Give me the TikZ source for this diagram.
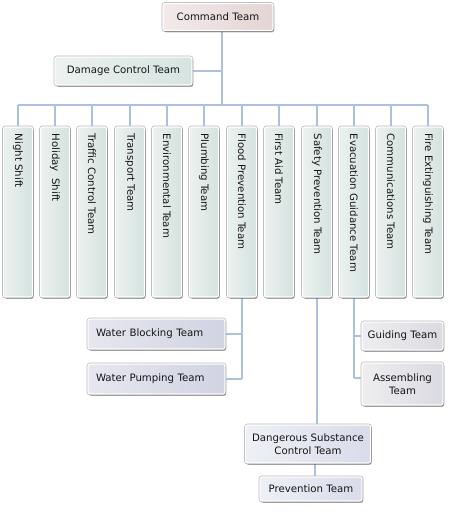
\documentclass[tikz,border=0pt]{standalone}
\usepackage{fontspec}
\setmainfont{DejaVu Sans}
\usetikzlibrary{shadows,backgrounds}
\definecolor{connc}{RGB}{172,193,222}
\definecolor{textc}{RGB}{22,22,22}
\definecolor{cmdL}{RGB}{243,234,234}
\definecolor{cmdR}{RGB}{229,212,212}
\definecolor{dmgL}{RGB}{236,242,240}
\definecolor{dmgR}{RGB}{214,228,225}
\definecolor{tallL}{RGB}{236,242,240}
\definecolor{tallR}{RGB}{212,226,223}
\definecolor{watL}{RGB}{230,231,239}
\definecolor{watR}{RGB}{208,211,226}
\definecolor{gdL}{RGB}{238,238,241}
\definecolor{gdR}{RGB}{218,218,225}
\definecolor{dgL}{RGB}{238,240,246}
\definecolor{dgR}{RGB}{217,220,233}
\begin{document}
\begin{tikzpicture}[x=1pt,y=-1pt,
  font=\fontsize{10.2}{12.5}\selectfont,
  box/.style={draw=white, line width=1.2pt, rounded corners=2pt, inner sep=2pt, text=textc,
    preaction={draw=black!28, line width=2.6pt},
    drop shadow={shadow xshift=1.2pt, shadow yshift=-1.8pt, opacity=0.3, fill=black}},
  tallbox/.style={box, minimum width=29pt, minimum height=170pt, left color=tallL, right color=tallR},
  talltext/.style={rotate=-90, anchor=west, inner sep=0pt, text=textc},
  cmdbox/.style={box, minimum width=110pt, minimum height=27pt, left color=cmdL, right color=cmdR},
  dmgbox/.style={box, minimum width=137pt, minimum height=28pt, left color=dmgL, right color=dmgR},
  watbox/.style={box, minimum width=137pt, minimum height=30pt, left color=watL, right color=watR, align=left, text width=121pt},
  gdbox/.style={box, minimum width=81pt, left color=gdL, right color=gdR, align=center},
  dgbox/.style={box, left color=dgL, right color=dgR, align=center},
  conn/.style={draw=connc, line width=2.6pt}]
\useasboundingbox (0,0) rectangle (452,515);

\node[cmdbox] (cmd) at (218,17) {Command Team};
\node[dmgbox] (dmg) at (123.5,71) {Damage Control Team};
\coordinate (j) at (222,105);

\foreach \i/\x/\t in {1/18/Night Shift, 2/55/Holiday\ \ Shift, 3/92/Traffic Control Team,
  4/130/Transport Team, 5/167/Environmental Team, 6/204/Plumbing Team,
  7/242/Flood Prevention Team, 8/279/First Aid Team, 9/317/Safety Prevention Team,
  10/354/Evacuation Guidance Team, 11/391/Communications Team, 12/428/Fire Extinguishing Team}{
  \node[tallbox] (b\i) at (\x,212) {};
  \path (b\i.north) ++(0,7) node[talltext] (t\i) {\t};
}

\node[watbox] (wb) at (156.5,334) {Water Blocking Team};
\node[watbox] (wp) at (156.5,379) {Water Pumping Team};
\coordinate (e2) at (354,378);
\node[gdbox, minimum height=28pt] (gd) at (402.5,336) {Guiding Team};
\node[gdbox, minimum height=42pt] (as) at (402.5,384) {Assembling\\Team};
\node[dgbox, minimum width=125pt, minimum height=38pt] (dang) at (308,444) {Dangerous Substance\\Control Team};
\node[dgbox, minimum width=102pt, minimum height=24pt] (pv) at (311,489) {Prevention Team};

\begin{scope}[on background layer]
  \draw[conn] (cmd.south -| j) -- (j);
  \draw[conn] (dmg.east) -- (dmg.east -| j);
  \draw[conn] (b1.north |- j) -- (b12.north |- j);
  \foreach \i in {1,...,12}{\draw[conn] (b\i.north |- j) -- (b\i.north);}
  \draw[conn] (b7.south) -- (b7.south |- wp.east);
  \draw[conn] (wb.east) -- (wb.east -| b7.south);
  \draw[conn] (wp.east) -- (wp.east -| b7.south);
  \draw[conn] (b10.south) -- (b10.south |- e2);
  \draw[conn] (gd.west -| b10.south) -- (gd.west);
  \draw[conn] (e2) -- (e2 -| as.west);
  \draw[conn] (b9.south) -- (b9.south |- dang.north);
  \draw[conn] ([xshift=4pt]pv.north) -- ([xshift=4pt]pv.north |- dang.south);
\end{scope}
\end{tikzpicture}
\end{document}
